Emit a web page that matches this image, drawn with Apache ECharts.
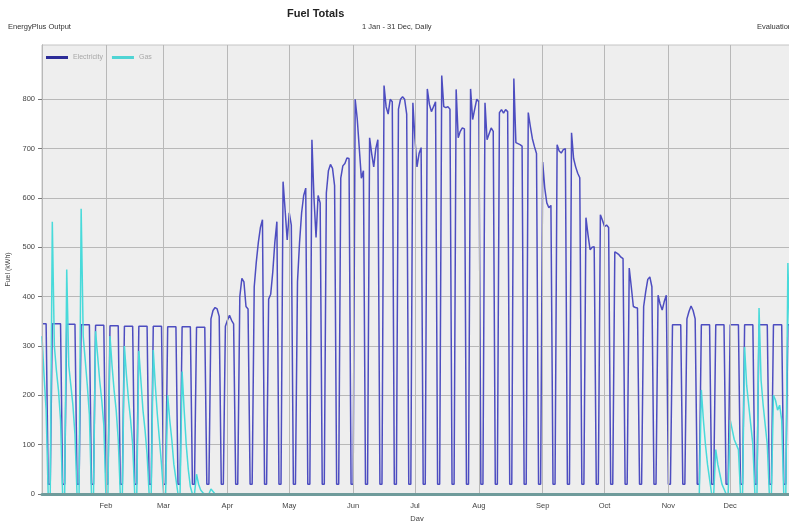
<!DOCTYPE html>
<html>
<head>
<meta charset="utf-8">
<script src="https://cdn.jsdelivr.net/npm/echarts@6/dist/echarts.min.js"></script>
<style>
html,body{margin:0;padding:0;background:#fff;}
#chart{width:789px;height:521px;}
</style>
</head>
<body>
<div id="chart"></div>
<script>
// Month names and lengths (x axis categories, one per day)
var monthNames = ['Jan','Feb','Mar','Apr','May','Jun','Jul','Aug','Sep','Oct','Nov','Dec'];
var monthDays = [31,28,31,30,31,30,31,31,30,31,30,31];
var yTickValues = [0,100,200,300,400,500,600,700,800];

// Electricity (kWh) daily values, per month
var elecJan = [345,345,345,20,20,345,345,345,345,345,20,20,344,344,344,344,344,20,20,343,343,343,343,343,20,20,342,342,342,342,342];
var elecFeb = [20,20,341,341,341,341,341,20,20,340,340,340,340,340,20,20,340,340,340,340,340,20,20,340,340,340,340,340];
var elecMar = [20,20,339,339,339,339,339,20,20,339,339,339,339,339,20,20,338,338,338,338,338,20,20,355,372,378,375,360,20,20,340];
var elecApr = [352,362,352,345,20,20,400,437,430,380,375,20,20,420,470,510,540,556,20,20,395,405,450,510,552,20,20,633,575,515];
var elecMay = [570,545,20,20,430,510,570,605,620,20,20,718,600,520,605,590,20,20,610,655,668,660,625,20,20,640,665,670,681,680,20];
var elecJun = [20,800,760,700,640,655,20,20,722,690,663,700,718,20,20,828,785,770,800,795,20,20,780,800,805,800,770,20,20,793];
var elecJul = [720,663,690,702,20,20,821,790,775,785,795,20,20,848,785,783,785,780,20,20,820,722,735,742,740,20,20,821,759,780,800];
var elecAug = [795,20,20,793,718,730,742,735,20,20,773,779,772,779,775,20,20,842,712,710,708,705,20,20,773,745,720,704,690,20,20];
var elecSep = [673,620,590,580,585,20,20,708,695,691,698,700,20,20,732,680,663,650,641,20,20,560,525,495,500,501,20,20,566,555];
var elecOct = [542,545,540,20,20,491,488,485,480,477,20,20,458,420,380,378,377,20,20,380,410,435,440,420,20,20,403,385,373,390,403];
var elecNov = [20,20,343,343,343,343,343,20,20,355,370,381,372,355,20,20,343,343,343,343,343,20,20,343,343,343,343,343,20,20];
var elecDec = [343,343,343,343,343,20,20,343,343,343,343,343,20,20,343,343,343,343,343,20,20,343,343,343,343,343,20,20,343,343,343];

// Gas (kWh) daily values, per month
var gasJan = [320,240,170,0,0,552,300,250,210,150,0,0,455,260,220,180,120,0,0,578,320,270,220,160,0,0,330,280,230,190,140];
var gasFeb = [0,0,320,260,210,170,110,0,0,300,240,190,150,100,0,0,290,230,170,130,80,0,0,292,220,160,110,60];
var gasMar = [0,0,200,150,110,60,30,0,0,248,170,100,50,15,0,0,40,20,8,3,0,0,0,10,5,0,0,0,0,0,0];
var gasApr = [0,0,0,0,0,0,0,0,0,0,0,0,0,0,0,0,0,0,0,0,0,0,0,0,0,0,0,0,0,0];
var gasMay = [0,0,0,0,0,0,0,0,0,0,0,0,0,0,0,0,0,0,0,0,0,0,0,0,0,0,0,0,0,0,0];
var gasJun = [0,0,0,0,0,0,0,0,0,0,0,0,0,0,0,0,0,0,0,0,0,0,0,0,0,0,0,0,0,0];
var gasJul = [0,0,0,0,0,0,0,0,0,0,0,0,0,0,0,0,0,0,0,0,0,0,0,0,0,0,0,0,0,0,0];
var gasAug = [0,0,0,0,0,0,0,0,0,0,0,0,0,0,0,0,0,0,0,0,0,0,0,0,0,0,0,0,0,0,0];
var gasSep = [0,0,0,0,0,0,0,0,0,0,0,0,0,0,0,0,0,0,0,0,0,0,0,0,0,0,0,0,0,0];
var gasOct = [0,0,0,0,0,0,0,0,0,0,0,0,0,0,0,0,0,0,0,0,0,0,0,0,0,0,0,0,0,0,0];
var gasNov = [0,0,0,0,0,0,0,0,0,0,0,0,0,0,0,0,211,150,100,60,30,0,0,90,60,40,20,10,0,0];
var gasDec = [150,130,110,100,90,0,0,298,220,180,140,100,0,0,377,230,180,140,100,0,0,200,190,170,180,150,0,0,468,300,250];

var electricity = [].concat(elecJan,elecFeb,elecMar,elecApr,elecMay,elecJun,elecJul,elecAug,elecSep,elecOct,elecNov,elecDec);
var gas = [].concat(gasJan,gasFeb,gasMar,gasApr,gasMay,gasJun,gasJul,gasAug,gasSep,gasOct,gasNov,gasDec);

var days = [];
var monthStart = {};
for (var m = 0; m < 12; m++) {
  monthStart[days.length] = true;
  for (var d = 1; d <= monthDays[m]; d++) days.push(monthNames[m] + ' ' + d);
}

var FONT = '"Liberation Sans", Arial, sans-serif';
var chart = echarts.init(document.getElementById('chart'), null, {renderer: 'canvas'});
chart.setOption({
  animation: false,
  backgroundColor: '#ffffff',
  textStyle: {fontFamily: FONT},
  graphic: [
    {type: 'text', left: 287, top: 8, style: {text: 'Fuel Totals', fontSize: 11, fontWeight: 'bold', fill: '#222', fontFamily: FONT}},
    {type: 'text', left: 8, top: 23, style: {text: 'EnergyPlus Output', fontSize: 7.5, fill: '#333', fontFamily: FONT}},
    {type: 'text', left: 362, top: 23, style: {text: '1 Jan - 31 Dec, Daily', fontSize: 7.5, fill: '#333', fontFamily: FONT}},
    {type: 'text', left: 757, top: 23, style: {text: 'Evaluation', fontSize: 7.5, fill: '#333', fontFamily: FONT}}
  ],
  legend: {
    left: 41, top: 49, itemWidth: 22, itemHeight: 3, itemGap: 9, icon: 'rect',
    textStyle: {fontSize: 7, color: '#a8a8a8', fontFamily: FONT},
    data: [
      {name: 'Electricity', itemStyle: {color: '#2c2c98'}},
      {name: 'Gas', itemStyle: {color: '#4fd4d4'}}
    ]
  },
  grid: {left: 42, right: -3, top: 45, bottom: 27, outerBoundsMode: 'none', containLabel: false,
         show: true, backgroundColor: '#eeeeee', borderColor: '#c4c4c4', borderWidth: 1},
  xAxis: {
    type: 'category', data: days, boundaryGap: false, z: 4,
    name: 'Day', nameLocation: 'middle', nameGap: 17,
    nameTextStyle: {fontSize: 7.5, color: '#444', fontFamily: FONT},
    axisLine: {show: true, lineStyle: {color: '#6f9b9b', width: 3}},
    axisTick: {show: false},
    axisLabel: {
      interval: function (i) { return monthStart[i] === true && i > 0; },
      formatter: function (v) { return v.split(' ')[0]; },
      fontSize: 7.5, color: '#444', margin: 8, fontFamily: FONT
    },
    splitLine: {show: true, interval: function (i) { return monthStart[i] === true; }, lineStyle: {color: '#b8b8b8', width: 1}}
  },
  yAxis: {
    type: 'value', min: 0, max: 910,
    name: 'Fuel (kWh)', nameLocation: 'middle', nameGap: 29, nameRotate: 90,
    nameTextStyle: {fontSize: 7, color: '#444', fontFamily: FONT},
    axisLine: {show: true, lineStyle: {color: '#9a9a9a', width: 1}},
    axisTick: {show: true, length: 4, lineStyle: {color: '#777'}, customValues: yTickValues},
    axisLabel: {fontSize: 7.5, color: '#444', margin: 7, customValues: yTickValues, fontFamily: FONT},
    splitLine: {show: true, lineStyle: {color: '#b8b8b8', width: 1}}
  },
  series: [
    {name: 'Electricity', type: 'line', data: electricity, showSymbol: false, symbol: 'none',
     lineStyle: {color: '#4d4dc0', width: 1.5}, itemStyle: {color: '#2c2c98'}, z: 2},
    {name: 'Gas', type: 'line', data: gas, showSymbol: false, symbol: 'none',
     lineStyle: {color: '#48dada', width: 1.5}, itemStyle: {color: '#4fd4d4'}, z: 3}
  ]
});
</script>
</body>
</html>
